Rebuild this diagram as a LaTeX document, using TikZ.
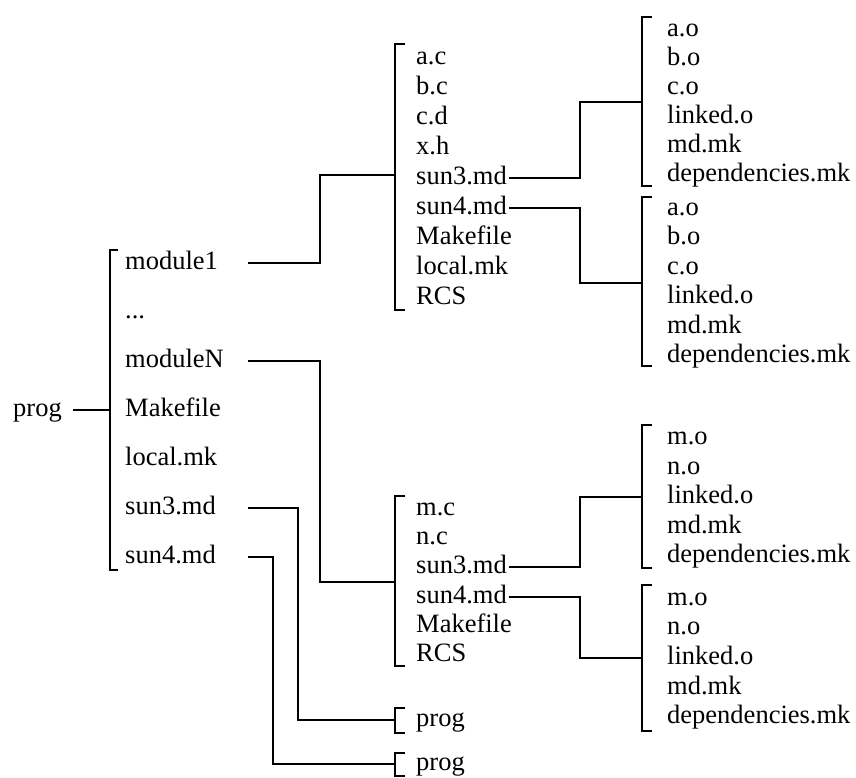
\documentclass[tikz,border=0pt]{standalone}
\usepackage{fontspec}
\setmainfont{Liberation Serif}
\tikzset{
    item/.style={anchor=west, inner xsep=2pt, inner ysep=0pt, text height=18pt, text depth=5pt},
    topitem/.style={item, text width=121pt},
    bracket/.style={line width=2.8pt, line cap=butt, line join=miter},
    link/.style={line width=2.2pt} }

\begin{document}
\begin{tikzpicture}[x=1pt, y=-1pt, font=\fontsize{26.5}{30}\selectfont]
			\useasboundingbox (0,0) rectangle (856,777);
			% root and first level
			\node[item] (prog) at (11,410) {prog};
			\node[topitem] (mone) at (123,263) {module1};
			\node[topitem] (mdots) at (123,312) {...};
			\node[topitem] (mN) at (123,361) {moduleN};
			\node[topitem] (mkf) at (123,410) {Makefile};
			\node[topitem] (lmk) at (123,459) {local.mk};
			\node[topitem] (sthree) at (123,508) {sun3.md};
			\node[topitem] (sfour) at (123,557) {sun4.md};
			% module1
			\node[item] (ac) at (414,58) {a.c};
			\node[item] (bc) at (414,88) {b.c};
			\node[item] (cd) at (414,118) {c.d};
			\node[item] (xh) at (414,148) {x.h};
			\node[item] (usthree) at (414,178) {sun3.md};
			\node[item] (usfour) at (414,208) {sun4.md};
			\node[item] (umkf) at (414,238) {Makefile};
			\node[item] (ulmk) at (414,268) {local.mk};
			\node[item] (urcs) at (414,298) {RCS};
			% module1/sun3.md
			\node[item] (aoA) at (665,30) {a.o};
			\node[item] (boA) at (665,59) {b.o};
			\node[item] (coA) at (665,88) {c.o};
			\node[item] (lkA) at (665,117) {linked.o};
			\node[item] (mdA) at (665,146) {md.mk};
			\node[item] (depA) at (665,175) {dependencies.mk};
			% module1/sun4.md
			\node[item] (aoB) at (665,209) {a.o};
			\node[item] (boB) at (665,238) {b.o};
			\node[item] (coB) at (665,268) {c.o};
			\node[item] (lkB) at (665,297) {linked.o};
			\node[item] (mdB) at (665,327) {md.mk};
			\node[item] (depB) at (665,356) {dependencies.mk};
			% moduleN
			\node[item] (mc) at (414,509) {m.c};
			\node[item] (nc) at (414,538) {n.c};
			\node[item] (lsthree) at (414,567) {sun3.md};
			\node[item] (lsfour) at (414,597) {sun4.md};
			\node[item] (lmkf) at (414,626) {Makefile};
			\node[item] (lrcs) at (414,655) {RCS};
			% moduleN/sun3.md
			\node[item] (moC) at (665,438) {m.o};
			\node[item] (noC) at (665,468) {n.o};
			\node[item] (lkC) at (665,497) {linked.o};
			\node[item] (mdC) at (665,527) {md.mk};
			\node[item] (depC) at (665,556) {dependencies.mk};
			% moduleN/sun4.md
			\node[item] (moD) at (665,599) {m.o};
			\node[item] (noD) at (665,628) {n.o};
			\node[item] (lkD) at (665,658) {linked.o};
			\node[item] (mdD) at (665,688) {md.mk};
			\node[item] (depD) at (665,717) {dependencies.mk};
			% sun3.md and sun4.md
			\node[item] (pthree) at (414,720) {prog};
			\node[item] (pfour) at (414,764) {prog};
			% ----
			\coordinate (rB) at (110,410);
			\coordinate (uB) at (395,175);
			\coordinate (lB) at (395,582);
			\coordinate (p3B) at (395,720);
			\coordinate (p4B) at (395,764);
			\coordinate (aB) at (642,102);
			\coordinate (bB) at (642,283);
			\coordinate (cB) at (642,497);
			\coordinate (dB) at (642,658);
			\draw[bracket] (118,250) -- (110,250) -- (110,570) -- (118,570);
			\draw[bracket] (405,44) -- (395,44) -- (395,310) -- (405,310);
			\draw[bracket] (405,496) -- (395,496) -- (395,666) -- (405,666);
			\draw[bracket] (405,708) -- (395,708) -- (395,733) -- (405,733);
			\draw[bracket] (405,753) -- (395,753) -- (395,776) -- (405,776);
			\draw[bracket] (652,17) -- (642,17) -- (642,186) -- (652,186);
			\draw[bracket] (652,197) -- (642,197) -- (642,366) -- (652,366);
			\draw[bracket] (652,425) -- (642,425) -- (642,568) -- (652,568);
			\draw[bracket] (652,585) -- (642,585) -- (642,731) -- (652,731);
			% ----
			\draw[link, shorten <=9pt] (prog.east) -- (rB);
			\draw[link] (mone.east) -| ([xshift=-75pt]uB) -- (uB);
			\draw[link] (mN.east) -| ([xshift=-75pt]lB) -- (lB);
			\draw[link] (sthree.east) -| ([xshift=-97pt]p3B) -- (p3B);
			\draw[link] (sfour.east) -| ([xshift=-122pt]p4B) -- (p4B);
			\draw[link] (usthree.east) -| ([xshift=-62pt]aB) -- (aB);
			\draw[link] (usfour.east) -| ([xshift=-62pt]bB) -- (bB);
			\draw[link] (lsthree.east) -| ([xshift=-62pt]cB) -- (cB);
			\draw[link] (lsfour.east) -| ([xshift=-62pt]dB) -- (dB);
		\end{tikzpicture}
\end{document}
